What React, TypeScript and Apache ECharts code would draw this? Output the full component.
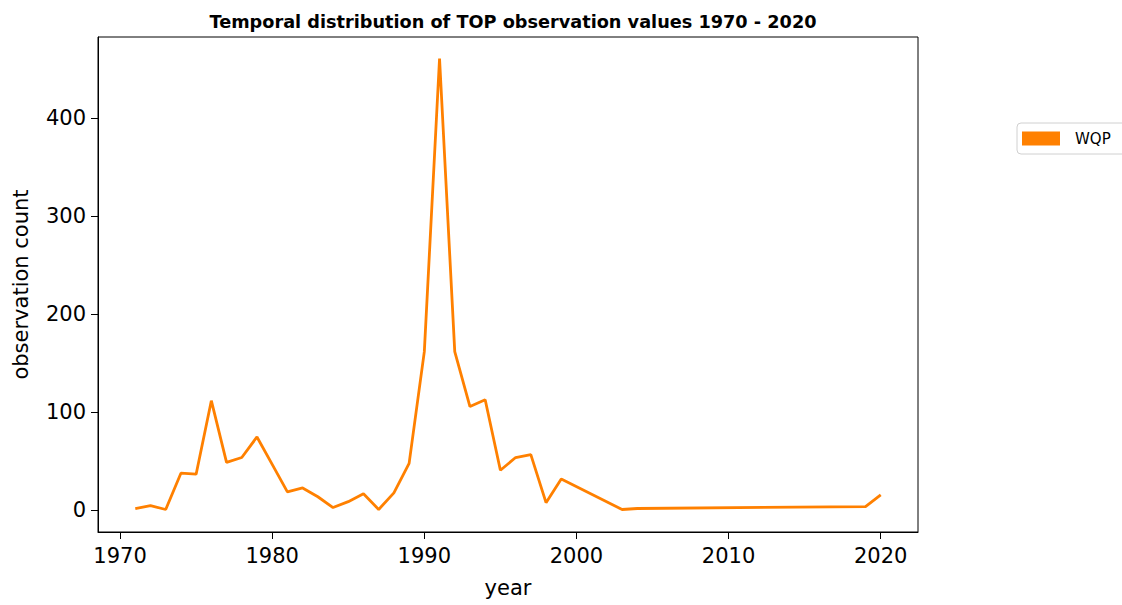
import React, { useEffect, useRef } from "react";
import * as echarts from "echarts";

const years = [1971, 1972, 1973, 1974, 1975, 1976, 1977, 1978, 1979, 1980, 1981, 1982, 1983, 1984, 1985, 1986, 1987, 1988, 1989, 1990, 1991, 1992, 1993, 1994, 1995, 1996, 1997, 1998, 1999, 2003, 2004, 2019, 2020];
const counts = [2, 5, 1, 38, 37, 112, 49, 54, 75, 47, 19, 23, 14, 3, 9, 17, 1, 18, 48, 162, 461, 162, 106, 113, 41, 54, 57, 8, 32, 1, 2, 4, 16];
const xTicks = [1970, 1980, 1990, 2000, 2010, 2020];
const yTicks = [0, 100, 200, 300, 400];
const seriesName = "WQP";
const titleText = "Temporal distribution of TOP observation values 1970 - 2020";

export default function App() {
  const ref = useRef<HTMLDivElement>(null);
  useEffect(() => {
    const chart = echarts.init(ref.current!, null, { renderer: "svg" });
    const font = "DejaVu Sans";
    const orange = "#ff8000";
    chart.setOption({
      animation: false,
      backgroundColor: "#ffffff",
      title: {
        text: titleText,
        left: 508,
        top: 8,
        textAlign: "center",
        textStyle: { fontFamily: font, fontWeight: "bold", fontSize: 17.7, color: "#000" },
      },
      legend: {
        left: 1017,
        top: 123,
        data: [{ name: seriesName, icon: "rect" }],
        itemWidth: 38,
        itemHeight: 14,
        itemGap: 10,
        padding: [8, 16, 8, 5],
        borderColor: "#d0d0d0",
        borderWidth: 1,
        borderRadius: 4,
        textStyle: { fontFamily: font, fontSize: 15, color: "#000", padding: [0, 0, 0, 10] },
      },
      grid: {
        left: 98,
        right: 204,
        top: 37,
        bottom: 73,
        show: true,
        borderColor: "#000",
        borderWidth: 1,
        backgroundColor: "transparent",
        outerBoundsMode: "none",
        containLabel: false,
      },
      xAxis: {
        type: "value",
        min: 1968.55,
        max: 2022.45,
        name: "year",
        nameLocation: "middle",
        nameGap: 45,
        nameTextStyle: { fontFamily: font, fontSize: 21, color: "#000" },
        axisLine: { show: true, onZero: false, lineStyle: { color: "#000", width: 1 } },
        axisTick: { show: true, length: 7, lineStyle: { color: "#000" }, customValues: xTicks },
        axisLabel: {
          fontFamily: font,
          fontSize: 21,
          color: "#000",
          margin: 13,
          customValues: xTicks,
          formatter: (v: number) => String(v),
        },
        splitLine: { show: false },
      },
      yAxis: {
        type: "value",
        min: -21.95,
        max: 482.95,
        name: "observation count",
        nameLocation: "middle",
        nameGap: 67,
        nameTextStyle: { fontFamily: font, fontSize: 21, color: "#000" },
        axisLine: { show: true, onZero: false, lineStyle: { color: "#000", width: 1 } },
        axisTick: { show: true, length: 7, lineStyle: { color: "#000" }, customValues: yTicks },
        axisLabel: {
          fontFamily: font,
          fontSize: 21,
          color: "#000",
          margin: 12,
          customValues: yTicks,
          formatter: (v: number) => String(v),
        },
        splitLine: { show: false },
      },
      series: [
        {
          name: seriesName,
          type: "line",
          data: years.map((y, i) => [y, counts[i]]),
          showSymbol: false,
          symbol: "none",
          color: orange,
          itemStyle: { color: orange },
          lineStyle: { color: orange, width: 2.8 },
        },
      ],
    });
    return () => chart.dispose();
  }, []);
  return <div ref={ref} style={{ position: "fixed", left: 0, top: 0, width: 1122, height: 605 }} />;
}
